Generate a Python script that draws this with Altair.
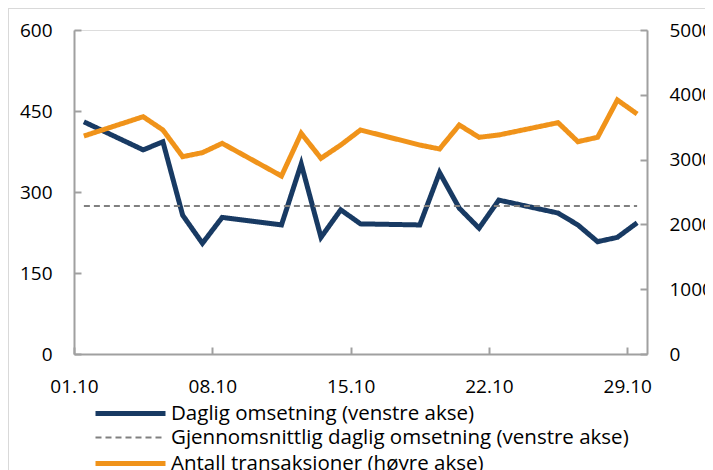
import altair as alt
import pandas as pd

days = [1, 4, 5, 6, 7, 8, 11, 12, 13, 14, 15, 18, 19, 20, 21, 22, 25, 26, 27, 28, 29]
turnover = [430, 378, 393, 257, 205, 253, 239, 352, 216, 267, 241, 239, 336, 270, 233, 285, 261, 239, 208, 216, 243]
transactions = [3364, 3662, 3457, 3045, 3107, 3251, 2747, 3405, 3020, 3225, 3457, 3225, 3164, 3534, 3344, 3380, 3570, 3277, 3344, 3920, 3704]
avg_turnover = 274
tick_days = [1, 8, 15, 22, 29]

S1 = "Daglig omsetning (venstre akse)"
S2 = "Gjennomsnittlig daglig omsetning (venstre akse)"
S3 = "Antall transaksjoner (høyre akse)"
NAVY = "#183a63"
ORANGE = "#f0931a"
GREY = "#808080"
AXIS = "#a0a0a0"
FONT = "Open Sans"
INWARD = {"expr": "-7"}

dates = [pd.Timestamp(2021, 10, d, 12) for d in days]
df1 = pd.DataFrame({"date": dates, "value": turnover, "series": S1})
df2 = pd.DataFrame({"date": [dates[0], dates[-1]], "value": [avg_turnover] * 2, "series": S2})
df3 = pd.DataFrame({"date": dates, "value": transactions, "series": S3})
left_df = pd.concat([df1, df2])

domain = [S1, S2, S3]
color = alt.Color("series:N", scale=alt.Scale(domain=domain, range=[NAVY, GREY, ORANGE]),
                  legend=alt.Legend(title=None, orient="none", legendX=44, legendY=371,
                                    symbolType="M-3.5,0H3.5", symbolSize=400,
                                    labelFontSize=20.5, labelFont=FONT, labelColor="#000",
                                    labelLimit=700, rowPadding=2.5, labelOffset=28))
dash = alt.StrokeDash("series:N", scale=alt.Scale(type="ordinal", domain=domain, range=[[1, 0], [6, 4], [1, 0]]), legend=None)
width = alt.StrokeWidth("series:N", scale=alt.Scale(type="ordinal", domain=domain, range=[5, 2, 5]), legend=None)

x = alt.X("date:T", scale=alt.Scale(domain=[pd.Timestamp(2021, 10, 1).isoformat(), pd.Timestamp(2021, 10, 30).isoformat()]),
          axis=alt.Axis(title=None, format="%d.%m", labelFlush=False,
                        values=[pd.Timestamp(2021, 10, d).isoformat() for d in tick_days],
                        grid=False, tickSize=INWARD, labelPadding=30, labelFontSize=19, labelFont=FONT,
                        labelColor="#000", domainColor=AXIS, tickColor=AXIS, domainWidth=2, tickWidth=2))

left = alt.Chart(left_df).mark_line(strokeJoin="miter").encode(
    x=x,
    y=alt.Y("value:Q", scale=alt.Scale(domain=[0, 600]),
            axis=alt.Axis(title=None, values=[0, 150, 300, 450, 600], grid=False, tickSize=INWARD,
                          labelPadding=29, labelFontSize=19, labelFont=FONT, labelColor="#000",
                          domainColor=AXIS, tickColor=AXIS, domainWidth=2, tickWidth=2)),
    color=color, strokeDash=dash, strokeWidth=width,
)

right = alt.Chart(df3).mark_line(strokeJoin="miter").encode(
    x=x,
    y=alt.Y("value:Q", scale=alt.Scale(domain=[0, 5000]),
            axis=alt.Axis(title=None, orient="right", values=[0, 1000, 2000, 3000, 4000, 5000], format="d",
                          grid=False, tickSize=INWARD, labelPadding=29, labelFontSize=19, labelFont=FONT,
                          labelColor="#000", domainColor=AXIS, tickColor=AXIS, domainWidth=2, tickWidth=2)),
    color=color, strokeDash=dash, strokeWidth=width,
)

frame = alt.Chart(alt.Data(values=[{}])).mark_rect(fill=None, stroke="#d9d9d9", strokeWidth=2).encode(
    x=alt.value(-66), y=alt.value(-22), x2=alt.value(700), y2=alt.value(500)
)

chart = alt.layer(frame, left, right).resolve_scale(y="independent").properties(
    width=573, height=324,
    autosize=alt.AutoSizeParams(type="none"),
    padding={"left": 66, "top": 22, "right": 58, "bottom": 140},
).configure_view(stroke=AXIS, strokeWidth=2).configure(background="white")

chart.save("out.html", embed_options={"renderer": "svg", "actions": False})
